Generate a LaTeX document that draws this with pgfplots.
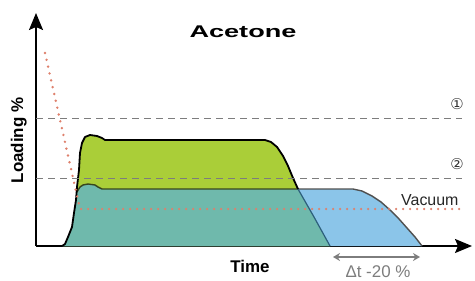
\documentclass[border=0pt]{standalone}
\usepackage{pgfplots}
\pgfplotsset{compat=1.18}
\usepackage{fontspec}
\setmainfont{Liberation Sans}
\newfontfamily\dejavu{DejaVu Sans}
\usetikzlibrary{arrows.meta}
\definecolor{cgreen}{RGB}{170,206,56}
\definecolor{cteal}{RGB}{111,185,172}
\definecolor{cblue}{RGB}{139,197,233}
\definecolor{cred}{RGB}{222,128,108}
\definecolor{dgray}{RGB}{125,125,125}
\definecolor{olive}{RGB}{55,70,30}
\definecolor{dblue}{RGB}{45,95,125}
\definecolor{bline}{RGB}{80,80,80}
\begin{document}
\begin{tikzpicture}[x=1bp,y=1bp]
\path[use as bounding box] (0,0) rectangle (475,280);
\begin{axis}[at={(36bp,34bp)}, anchor=south west, scale only axis,
  width=436bp, height=233bp, xmin=0, xmax=436, ymin=0, ymax=233,
  axis lines=left,
  axis line style={line width=1.8bp, -{Stealth[length=17bp,width=14bp,inset=3bp]}},
  xtick=\empty, ytick=\empty, clip=false]
% blue (full shape)
\addplot[fill=cblue, draw=none] coordinates {(26,0) (29,2) (32,9) (36,19) (38,33) (40,46) (41,54) (44,59) (47,61) (52,62) (59,61) (62,59) (66,57) (317,57) (326,55) (336,50) (345,44) (354,36) (363,27) (371,18) (379,9) (386,0)} \closedcycle;
% green (full shape)
\addplot[fill=cgreen, draw=none] coordinates {(26,0) (29,2) (32,9) (36,19) (38,33) (40,46) (41,59) (43,76) (44,93) (46,103) (49,109) (54,111) (61,110) (66,108) (69,106) (229,106) (235,104) (241,99) (247,90) (252,80) (257,68) (262,57) (278,29) (294,0)} \closedcycle;
% teal (overlap)
\addplot[fill=cteal, draw=none] coordinates {(26,0) (29,2) (32,9) (36,19) (38,33) (40,46) (41,54) (44,59) (47,61) (52,62) (59,61) (62,59) (66,57) (262,57) (278,29) (294,0)} \closedcycle;
% outlines
\addplot[draw=bline, line width=1.4bp, line join=round] coordinates {(262,57) (317,57) (326,55) (336,50) (345,44) (354,36) (363,27) (371,18) (379,9) (386,0)};
\addplot[draw=olive, line width=1.4bp, line join=round] coordinates {(41,54) (44,59) (47,61) (52,62) (59,61) (62,59) (66,57) (262,57)};
\addplot[draw=dblue, line width=1.2bp] coordinates {(262,57) (278,29) (294,0)};
\addplot[draw=black, line width=1.8bp, line join=round] coordinates {(26,0) (29,2) (32,9) (36,19) (38,33) (40,46) (41,59) (43,76) (44,93) (46,103) (49,109) (54,111) (61,110) (66,108) (69,106) (229,106) (235,104) (241,99) (247,90) (252,80) (257,68) (262,57)};
% reference lines
\addplot[draw=dgray, line width=1bp, dash pattern=on 6.5bp off 5.5bp] coordinates {(0,128) (426,128)};
\addplot[draw=dgray, line width=1bp, dash pattern=on 6.5bp off 5.5bp] coordinates {(0,68) (426,68)};
\addplot[draw=cred, line width=2.7bp, line cap=round, dash pattern=on 0bp off 7bp] coordinates {(9,193) (44,37) (426,37)};
\end{axis}
\node[anchor=base, font=\bfseries\fontsize{17}{20}\selectfont] at (243,243) {\scalebox{1.6}[1]{Acetone}};
\node[anchor=base, font=\bfseries\fontsize{17}{20}\selectfont] at (250,8) {Time};
\node[anchor=base, rotate=90, font=\bfseries\fontsize{17}{20}\selectfont] at (23,139.5) {Loading \%};
\node[anchor=base east, font=\fontsize{16}{19}\selectfont, text=black!85] at (462,75) {Vacuum};
\node[font=\dejavu\fontsize{15}{17}\selectfont, text=black!80] at (457,176) {①};
\node[font=\dejavu\fontsize{15}{17}\selectfont, text=black!80] at (457,116) {②};
\draw[dgray, line width=2bp, {Stealth[length=7bp,width=8bp]}-{Stealth[length=7bp,width=8bp]}] (333,23) -- (420,23);
\node[anchor=base, font=\fontsize{17}{20}\selectfont, text=dgray] at (378,2.5) {Δt -20 \%};
\end{tikzpicture}
\end{document}
